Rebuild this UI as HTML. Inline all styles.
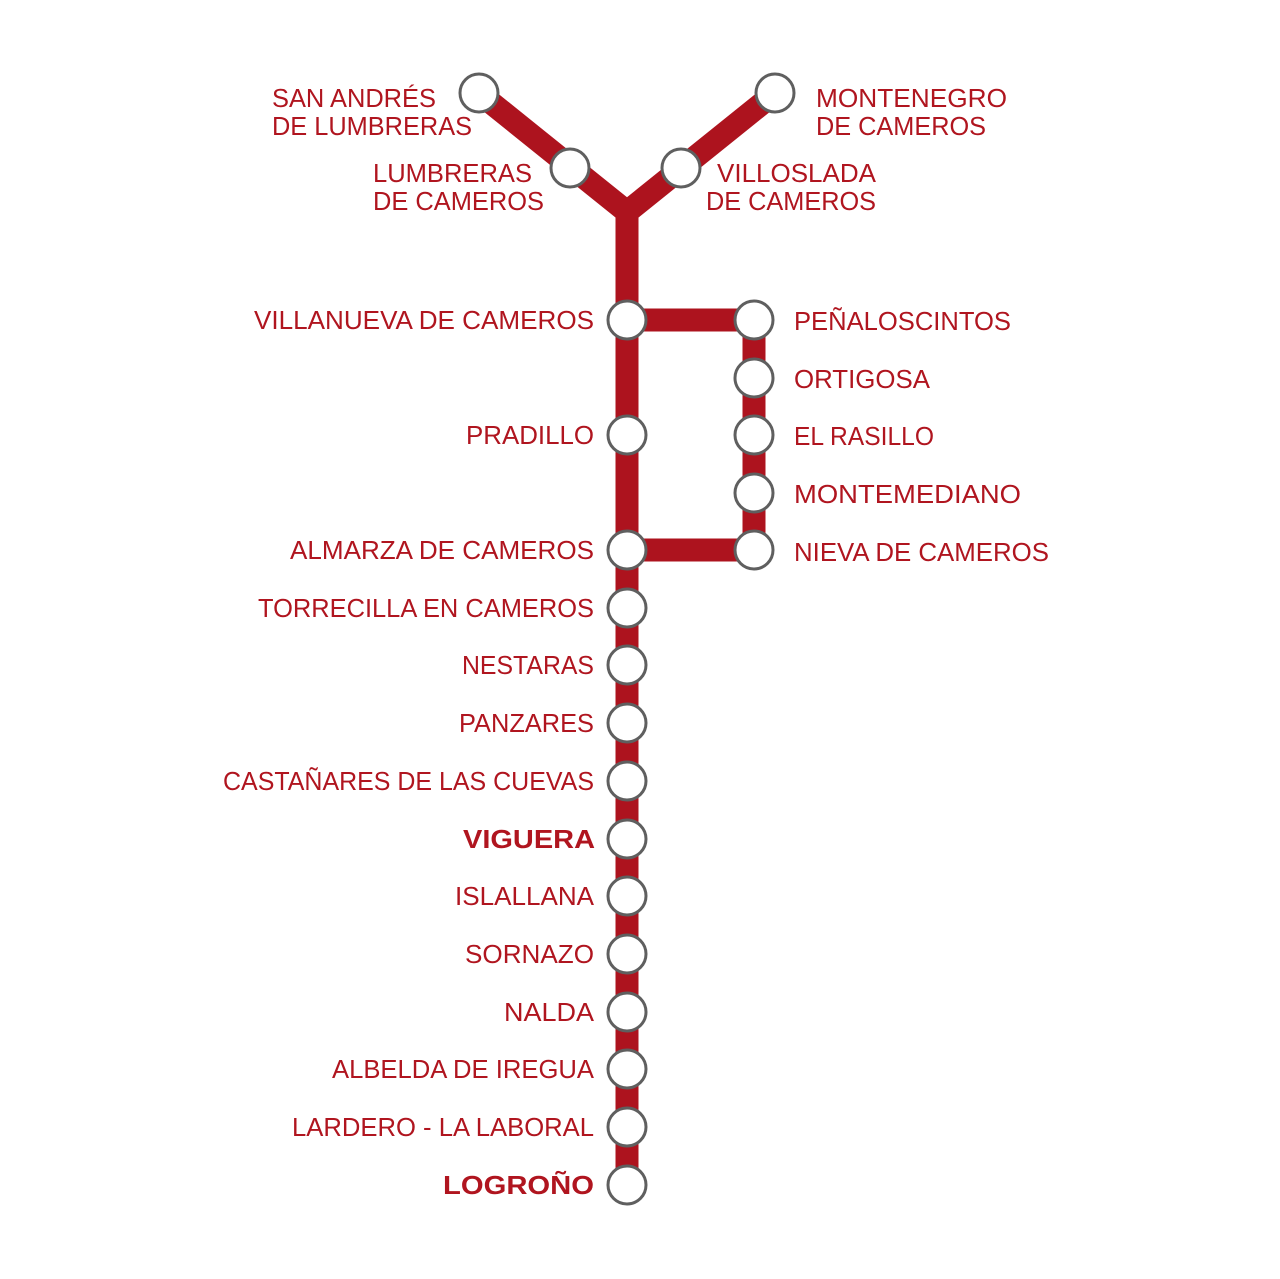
<!DOCTYPE html>
<html><head><meta charset="utf-8"><style>
html,body{margin:0;padding:0;background:#fff;}
svg{display:block;}
text{font-family:"Liberation Sans",sans-serif;font-size:26px;fill:#b0151f;}
.b{font-weight:bold;}
</style></head><body>
<svg width="1280" height="1279" viewBox="0 0 1280 1279" xmlns="http://www.w3.org/2000/svg">
<g stroke="#ad131e" stroke-width="23" fill="none" stroke-linejoin="miter">
<polyline points="479,93 627,212 775,93"/>
<line x1="627" y1="205" x2="627" y2="1185"/>
<polyline points="627,320 754,320 754,550 627,550"/>
</g>
<g fill="#fff" stroke="#5f5f5f" stroke-width="3">
<circle cx="479" cy="93" r="19"/><circle cx="570" cy="168" r="19"/>
<circle cx="681" cy="168" r="19"/><circle cx="775" cy="93" r="19"/>
<circle cx="627" cy="320" r="19"/><circle cx="627" cy="435" r="19"/>
<circle cx="627" cy="550" r="19"/><circle cx="627" cy="608" r="19"/>
<circle cx="627" cy="665" r="19"/><circle cx="627" cy="723" r="19"/>
<circle cx="627" cy="781" r="19"/><circle cx="627" cy="839" r="19"/>
<circle cx="627" cy="896" r="19"/><circle cx="627" cy="954" r="19"/>
<circle cx="627" cy="1012" r="19"/><circle cx="627" cy="1069" r="19"/>
<circle cx="627" cy="1127" r="19"/><circle cx="627" cy="1185" r="19"/>
<circle cx="754" cy="320" r="19"/><circle cx="754" cy="378" r="19"/>
<circle cx="754" cy="435" r="19"/><circle cx="754" cy="493" r="19"/>
<circle cx="754" cy="550" r="19"/>
</g>
<g>
<text x="272" y="107" textLength="164" lengthAdjust="spacingAndGlyphs">SAN ANDRÉS</text>
<text x="272" y="135" textLength="200" lengthAdjust="spacingAndGlyphs">DE LUMBRERAS</text>
<text x="373" y="182" textLength="159" lengthAdjust="spacingAndGlyphs">LUMBRERAS</text>
<text x="373" y="210" textLength="171" lengthAdjust="spacingAndGlyphs">DE CAMEROS</text>
<text x="717" y="182" textLength="159" lengthAdjust="spacingAndGlyphs">VILLOSLADA</text>
<text x="706" y="210" textLength="170" lengthAdjust="spacingAndGlyphs">DE CAMEROS</text>
<text x="816" y="107" textLength="191" lengthAdjust="spacingAndGlyphs">MONTENEGRO</text>
<text x="816" y="135" textLength="170" lengthAdjust="spacingAndGlyphs">DE CAMEROS</text>

<text x="254" y="329" textLength="340" lengthAdjust="spacingAndGlyphs">VILLANUEVA DE CAMEROS</text>
<text x="466" y="444" textLength="128" lengthAdjust="spacingAndGlyphs">PRADILLO</text>
<text x="290" y="559" textLength="304" lengthAdjust="spacingAndGlyphs">ALMARZA DE CAMEROS</text>
<text x="258" y="617" textLength="336" lengthAdjust="spacingAndGlyphs">TORRECILLA EN CAMEROS</text>
<text x="462" y="674" textLength="132" lengthAdjust="spacingAndGlyphs">NESTARAS</text>
<text x="459" y="732" textLength="135" lengthAdjust="spacingAndGlyphs">PANZARES</text>
<text x="223" y="790" textLength="371" lengthAdjust="spacingAndGlyphs">CASTAÑARES DE LAS CUEVAS</text>
<text class="b" x="463" y="848" textLength="132" lengthAdjust="spacingAndGlyphs">VIGUERA</text>
<text x="455" y="905" textLength="139" lengthAdjust="spacingAndGlyphs">ISLALLANA</text>
<text x="465" y="963" textLength="129" lengthAdjust="spacingAndGlyphs">SORNAZO</text>
<text x="504" y="1021" textLength="90" lengthAdjust="spacingAndGlyphs">NALDA</text>
<text x="332" y="1078" textLength="262" lengthAdjust="spacingAndGlyphs">ALBELDA DE IREGUA</text>
<text x="292" y="1136" textLength="302" lengthAdjust="spacingAndGlyphs">LARDERO - LA LABORAL</text>
<text class="b" x="443" y="1194" textLength="151" lengthAdjust="spacingAndGlyphs">LOGROÑO</text>

<text x="794" y="330" textLength="217" lengthAdjust="spacingAndGlyphs">PEÑALOSCINTOS</text>
<text x="794" y="388" textLength="136" lengthAdjust="spacingAndGlyphs">ORTIGOSA</text>
<text x="794" y="445" textLength="140" lengthAdjust="spacingAndGlyphs">EL RASILLO</text>
<text x="794" y="503" textLength="227" lengthAdjust="spacingAndGlyphs">MONTEMEDIANO</text>
<text x="794" y="561" textLength="255" lengthAdjust="spacingAndGlyphs">NIEVA DE CAMEROS</text>
</g>
</svg>
</body></html>
